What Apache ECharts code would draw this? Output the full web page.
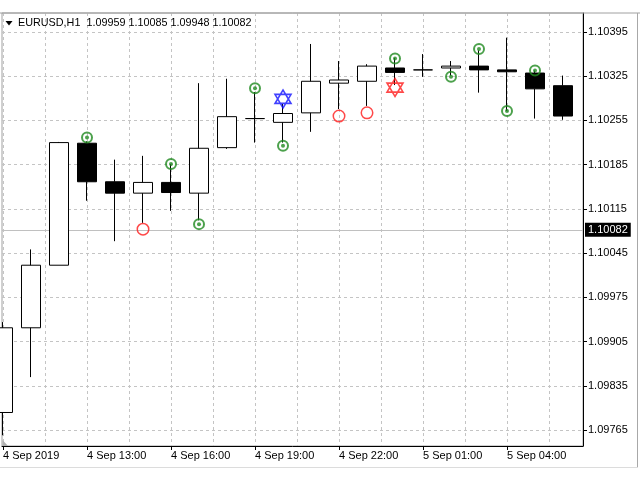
<!DOCTYPE html>
<html>
<head>
<meta charset="utf-8">
<script src="https://cdn.jsdelivr.net/npm/echarts@6/dist/echarts.min.js"></script>
<style>
html,body{margin:0;padding:0;background:#fff;}
#chart{width:640px;height:480px;}
</style>
</head>
<body>
<div id="chart"></div>
<script>
// ---- data ----
const symbolName = 'EURUSD,H1';
const headerOHLC = ['1.09959', '1.10085', '1.09948', '1.10082'];
const lastPrice = 1.10082;

const categories = ['4 Sep 10:00','4 Sep 11:00','4 Sep 12:00','4 Sep 13:00','4 Sep 14:00','4 Sep 15:00','4 Sep 16:00',
  '4 Sep 17:00','4 Sep 18:00','4 Sep 19:00','4 Sep 20:00','4 Sep 21:00','4 Sep 22:00','4 Sep 23:00',
  '5 Sep 00:00','5 Sep 01:00','5 Sep 02:00','5 Sep 03:00','5 Sep 04:00','5 Sep 05:00','5 Sep 06:00'];
const opens  = [1.09793,1.09927,1.10026,1.10219,1.10158,1.10140,1.10157,1.10140,1.10212,1.10258,1.10252,1.10267,1.10314,1.10317,1.10338,1.10335,1.10338,1.10341,1.10335,1.10330,1.10310];
const closes = [1.09927,1.10026,1.10220,1.10158,1.10140,1.10157,1.10141,1.10211,1.10261,1.10258,1.10266,1.10317,1.10319,1.10341,1.10331,1.10335,1.10341,1.10335,1.10332,1.10305,1.10262];
const lows   = [1.09757,1.09849,1.10026,1.10128,1.10064,1.10093,1.10112,1.10097,1.10210,1.10220,1.10220,1.10237,1.10273,1.10278,1.10311,1.10324,1.10326,1.10299,1.10270,1.10258,1.10256];
const highs  = [1.09936,1.10051,1.10221,1.10222,1.10193,1.10199,1.10186,1.10314,1.10321,1.10300,1.10281,1.10376,1.10349,1.10344,1.10354,1.10360,1.10349,1.10366,1.10386,1.10334,1.10326];

const greenIdx = [3,6,7,9,10,14,16,17,18,19];
const greenVal = [1.10228,1.10186,1.10091,1.10306,1.10215,1.10353,1.10324,1.10368,1.10270,1.10334];
const redIdx = [5,12,13];
const redVal = [1.10083,1.10262,1.10267];
const blueStarIdx = [10];
const blueStarVal = [1.10289];
const redStarIdx = [14];
const redStarVal = [1.10307];

const timeTickIdx = [0,3,6,9,12,15,18];
const timeTickLabels = ['4 Sep 2019','4 Sep 13:00','4 Sep 16:00','4 Sep 19:00','4 Sep 22:00','5 Sep 01:00','5 Sep 04:00'];
const timeGridIdx = [0,1.5,3,4.5,6,7.5,9,10.5,12,13.5,15,16.5,18,19.5];
const priceTicks = [1.09765,1.09835,1.09905,1.09975,1.10045,1.10115,1.10185,1.10255,1.10325,1.10395];

// ---- chart ----
const chart = echarts.init(document.getElementById('chart'), null, {renderer:'canvas'});
const FONT = 'Liberation Sans, Arial, sans-serif';
const candleData = categories.map((c,i)=>[i, opens[i], closes[i], lows[i], highs[i]]);
const pairs = (xs, ys) => xs.map((x,k)=>[x, ys[k]]);
const hexagram = 'path://M10,0 L18.66,15 L1.34,15 Z M10,20 L18.66,5 L1.34,5 Z';

const option = {
  animation: false,
  backgroundColor: '#fff',
  title: {
    text: symbolName + '  ' + headerOHLC.join(' '),
    left: 18, top: 18, padding: 0,
    textStyle: {fontFamily: FONT, fontSize: 10.8, fontWeight: 'normal', color: '#000'}
  },
  grid: {left: 2, right: 57, top: 13, bottom: 34, show: true, borderColor: '#a0a0a0', borderWidth: 1, backgroundColor: '#fff'},
  xAxis: [
    {
      type: 'value', min: -0.036, max: 20.714, position: 'bottom',
      axisLine: {show: true, onZero: false, lineStyle: {color: '#000', width: 1}},
      axisTick: {show: false, customValues: timeGridIdx},
      axisLabel: {show: false},
      splitLine: {show: true, lineStyle: {color: '#c4c4c4', type: [3,3], width: 1}}
    },
    {
      type: 'value', min: -0.036, max: 20.714, position: 'bottom', gridIndex: 0,
      axisLine: {show: false, onZero: false},
      axisTick: {show: true, length: 4, lineStyle: {color: '#000'}, customValues: timeTickIdx},
      axisLabel: {show: true, customValues: timeTickIdx, align: 'left', margin: 4,
        fontFamily: FONT, fontSize: 11, color: '#000',
        formatter: v => { const k = timeTickIdx.indexOf(Math.round(v)); return k >= 0 ? timeTickLabels[k] : ''; }},
      splitLine: {show: false}
    }
  ],
  yAxis: {
    type: 'value', position: 'right', min: 1.0974, max: 1.10425, scale: true,
    axisLine: {show: true, onZero: false, lineStyle: {color: '#000', width: 1}},
    axisTick: {show: true, length: 4, lineStyle: {color: '#000'}, customValues: priceTicks},
    axisLabel: {show: true, customValues: priceTicks, margin: 5, fontFamily: FONT, fontSize: 11, color: '#000',
      formatter: v => v.toFixed(5)},
    splitLine: {show: true, lineStyle: {color: '#c4c4c4', type: [3,3], width: 1}}
  },
  series: [
    {
      type: 'candlestick', xAxisIndex: 0, data: candleData, barWidth: 20,
      encode: {x: 0, y: [1,2,3,4]},
      itemStyle: {color: '#fff', color0: '#000', borderColor: '#000', borderColor0: '#000', borderWidth: 1}
    },
    {
      type: 'scatter', xAxisIndex: 0, data: pairs(greenIdx, greenVal), symbol: 'circle', symbolSize: 10,
      itemStyle: {color: 'rgba(0,0,0,0)', borderColor: '#1f8a1f', borderWidth: 2}, z: 5
    },
    {
      type: 'scatter', xAxisIndex: 0, data: pairs(greenIdx, greenVal), symbol: 'circle', symbolSize: 4,
      itemStyle: {color: '#1f8a1f'}, z: 6
    },
    {
      type: 'scatter', xAxisIndex: 0, data: pairs(redIdx, redVal), symbol: 'circle', symbolSize: 11.5,
      itemStyle: {color: 'rgba(0,0,0,0)', borderColor: '#ff1a1a', borderWidth: 1.5}, z: 5,
      markLine: {
        silent: true, symbol: ['none','none'], z: 1, precision: 5,
        lineStyle: {color: '#c0c0c0', type: 'solid', width: 1},
        label: {show: true, position: 'end', distance: 2, formatter: () => lastPrice.toFixed(5),
          backgroundColor: '#000', color: '#fff', padding: [2,3,1,3], fontFamily: FONT, fontSize: 11},
        data: [{yAxis: lastPrice}]
      }
    },
    {
      type: 'scatter', xAxisIndex: 0, data: pairs(blueStarIdx, blueStarVal), symbol: hexagram, symbolSize: [16,18],
      itemStyle: {color: 'rgba(0,0,0,0)', borderColor: '#1010ff', borderWidth: 1.6}, z: 5
    },
    {
      type: 'scatter', xAxisIndex: 0, data: pairs(redStarIdx, redStarVal), symbol: hexagram, symbolSize: [16,18],
      itemStyle: {color: 'rgba(0,0,0,0)', borderColor: '#ff1a1a', borderWidth: 1.6}, z: 5
    }
  ],
  graphic: [
    {type: 'line', shape: {x1: 0, y1: 13, x2: 640, y2: 13}, style: {stroke: '#a0a0a0', lineWidth: 1}, z: 100},
    {type: 'line', shape: {x1: 637.5, y1: 13, x2: 637.5, y2: 467}, style: {stroke: '#a8a8a8', lineWidth: 1}, z: 100},
    {type: 'line', shape: {x1: 0, y1: 467.5, x2: 638, y2: 467.5}, style: {stroke: '#dcdcdc', lineWidth: 1}, z: 100},
    {type: 'polygon', shape: {points: [[5.5,21],[12.5,21],[9,25.5]]}, style: {fill: '#000'}, z: 100},
    {type: 'polygon', shape: {points: [[2.5,440],[2.5,446],[8,446]]}, style: {fill: '#b0b0b0'}, z: 100}
  ]
};
chart.setOption(option);
</script>
</body>
</html>
